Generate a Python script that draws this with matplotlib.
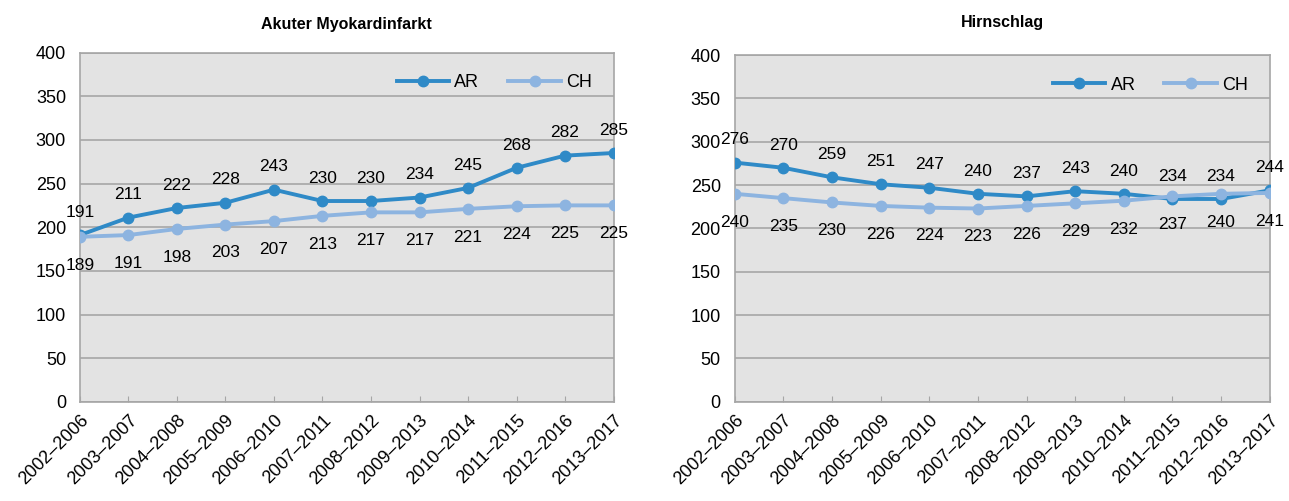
import matplotlib
matplotlib.use("Agg")
import matplotlib.pyplot as plt

plt.rcParams["font.family"] = ["Liberation Sans", "DejaVu Sans"]

periods = ["2002–2006", "2003–2007", "2004–2008", "2005–2009", "2006–2010", "2007–2011",
           "2008–2012", "2009–2013", "2010–2014", "2011–2015", "2012–2016", "2013–2017"]

ami_ar = [191, 211, 222, 228, 243, 230, 230, 234, 245, 268, 282, 285]
ami_ch = [189, 191, 198, 203, 207, 213, 217, 217, 221, 224, 225, 225]

stroke_ar = [276, 270, 259, 251, 247, 240, 237, 243, 240, 234, 234, 244]
stroke_ch = [240, 235, 230, 226, 224, 223, 226, 229, 232, 237, 240, 241]

AR_COLOR = "#2F8AC7"
CH_COLOR = "#8DB4E0"

fig = plt.figure(figsize=(12.89, 5.01), dpi=100)
ax1 = fig.add_axes([0.062, 0.198, 0.414, 0.697])
ax2 = fig.add_axes([0.570, 0.198, 0.415, 0.692])


def draw(ax, title, ar, ch, title_pad):
    ax.set_facecolor("#E3E3E3")
    x = list(range(len(periods)))
    ax.plot(x, ar, color=AR_COLOR, lw=2.8, marker="o", ms=7.5, label="AR", zorder=3)
    ax.plot(x, ch, color=CH_COLOR, lw=2.8, marker="o", ms=7.5, label="CH", zorder=3)
    for i, v in enumerate(ar):
        ax.annotate(str(v), (i, v), xytext=(0, 11), textcoords="offset points",
                    ha="center", va="bottom", fontsize=12.5)
    for i, v in enumerate(ch):
        ax.annotate(str(v), (i, v), xytext=(0, -15), textcoords="offset points",
                    ha="center", va="top", fontsize=12.5)
    ax.set_xlim(0, len(periods) - 1)
    ax.set_ylim(0, 400)
    ax.set_yticks(range(0, 401, 50))
    ax.set_xticks(x)
    ax.set_xticklabels(periods, rotation=45, ha="right", rotation_mode="anchor", fontsize=13)
    ax.tick_params(axis="y", length=0, labelsize=13, pad=10)
    ax.tick_params(axis="x", direction="in", length=4, color="#A6A6A6", pad=7)
    ax.grid(axis="y", color="#A6A6A6", lw=1.2)
    ax.set_axisbelow(True)
    for s in ax.spines.values():
        s.set_color("#A6A6A6")
        s.set_linewidth(1.2)
    ax.set_title(title, fontsize=11.5, fontweight="bold", pad=title_pad)
    ax.legend(loc="upper right", bbox_to_anchor=(0.99, 0.985), ncol=2, frameon=False,
              fontsize=13, handlelength=2.9, columnspacing=1.6, handletextpad=0.3)


draw(ax1, "Akuter Myokardinfarkt", ami_ar, ami_ch, 17)
draw(ax2, "Hirnschlag", stroke_ar, stroke_ch, 20)

fig.savefig("out.png", dpi=100)
